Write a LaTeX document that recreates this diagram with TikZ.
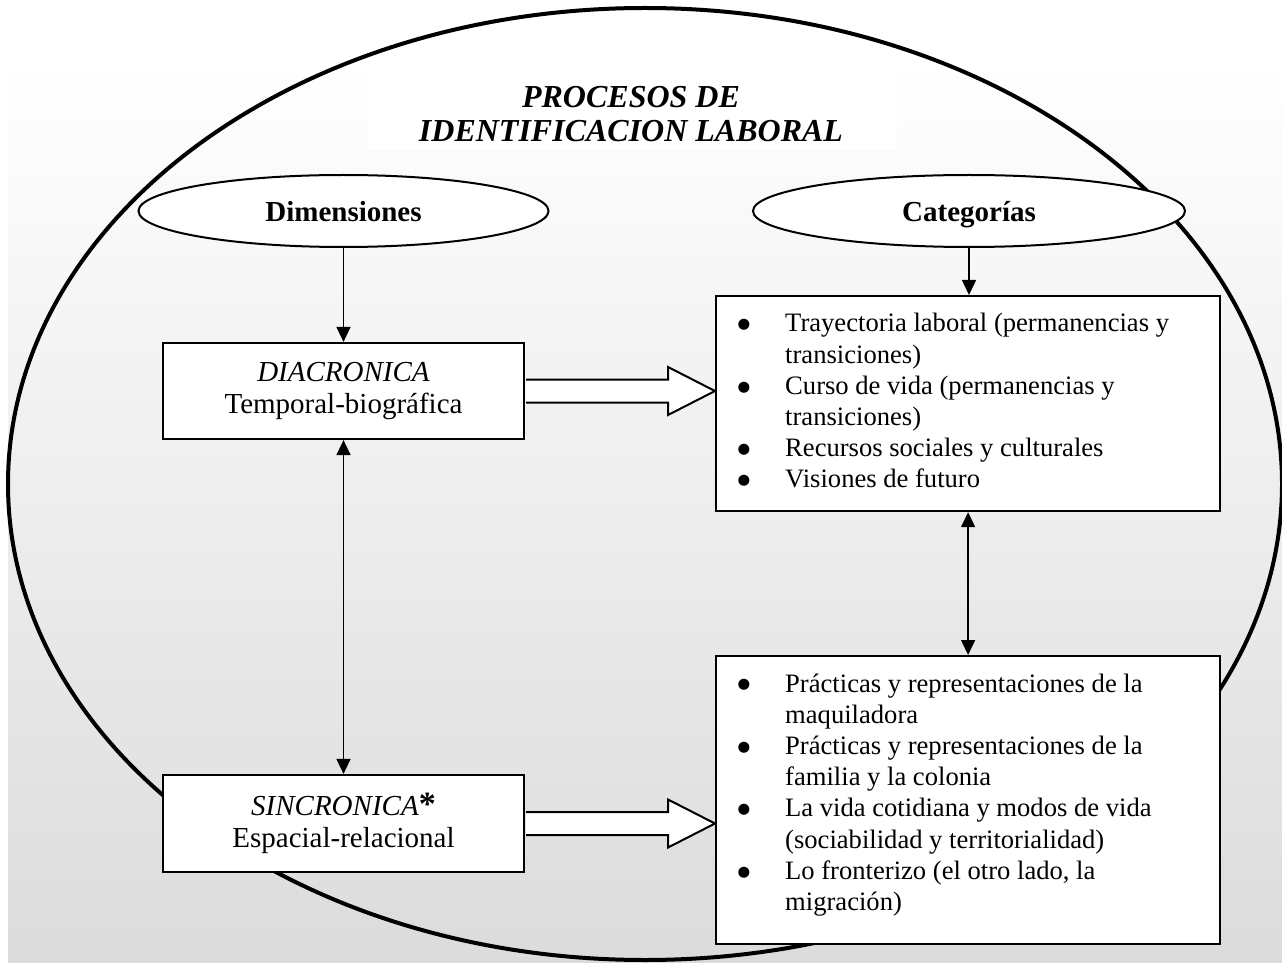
\documentclass[tikz,border=0pt]{standalone}
\usepackage{fontspec}
\setmainfont{Liberation Serif}
\newfontfamily\dotfont{DejaVu Sans}
\usetikzlibrary{shapes.geometric,arrows.meta,calc}
\newcommand{\bigbul}{\raisebox{3.2pt}{\dotfont\fontsize{14.5}{14.5}\selectfont ●}}
\begin{document}
\begin{tikzpicture}[x=1pt,y=-1pt,
  box/.style={draw, line width=2.2pt, fill=white, inner sep=0pt},
  oval/.style={ellipse, draw, line width=2pt, fill=white, inner sep=0pt,
    text height=24pt, text depth=2pt,
    font=\bfseries\fontsize{29}{32}\selectfont},
  arr/.style={line width=1.5pt, -{Triangle[length=15pt,width=14pt]}},
  darr/.style={line width=1.5pt, {Triangle[length=15pt,width=14pt]}-{Triangle[length=15pt,width=14pt]}},
  fat/.style={draw, line width=2pt, fill=white, line join=miter},
  lbl/.style={font=\fontsize{29}{32}\selectfont, align=center},
  lst/.style={font=\fontsize{26.6}{31.2}\selectfont, inner sep=0pt, anchor=base west}]
\useasboundingbox (0,0) rectangle (1282,965);
% background
\shade[top color=white, bottom color=gray!28] (8,62) rectangle (1282,962);
\fill[white] (368,60) rectangle (897,150);
% big ellipse
\draw[line width=4pt] (645,484) ellipse [x radius=637pt, y radius=476pt];
% title
\node[anchor=base, inner sep=0pt, font=\bfseries\itshape\fontsize{32}{34}\selectfont] (title) at (631,108)
  {\begin{tabular}[t]{@{}c@{}}PROCESOS DE\\IDENTIFICACION LABORAL\end{tabular}};
% ellipses
\node[oval, minimum width=410pt, minimum height=72pt] (dim) at (343.5,211) {Dimensiones};
\node[oval, minimum width=432pt, minimum height=72pt] (cat) at (969,211) {Categorías};
% left boxes
\node[box, lbl, minimum width=361pt, minimum height=96pt] (dia) at (343.5,391)
  {\textit{DIACRONICA}\\Temporal-biográfica};
\node[box, lbl, minimum width=361pt, minimum height=97pt] (sin) at (343.5,823.5)
  {\textit{SINCRONICA}{\bfseries\fontsize{34}{34}\selectfont *}\\Espacial-relacional};
% right boxes
\node[box, minimum width=504pt, minimum height=215pt, anchor=north west] (cat1) at (715,295) {};
\node[box, minimum width=504pt, minimum height=288pt, anchor=north west] (cat2) at (715,655) {};
\node[lst] (l1) at (737.5,332) {\begin{tabular}[t]{@{}p{47.5pt}@{}l@{}}
  \bigbul & Trayectoria laboral (permanencias y\\
   & transiciones)\\
  \bigbul & Curso de vida (permanencias y\\
   & transiciones)\\
  \bigbul & Recursos sociales y culturales\\
  \bigbul & Visiones de futuro
  \end{tabular}};
\node[lst] (l2) at (737.5,692) {\begin{tabular}[t]{@{}p{47.5pt}@{}l@{}}
  \bigbul & Prácticas y representaciones de la\\
   & maquiladora\\
  \bigbul & Prácticas y representaciones de la\\
   & familia y la colonia\\
  \bigbul & La vida cotidiana y modos de vida\\
   & (sociabilidad y territorialidad)\\
  \bigbul & Lo fronterizo (el otro lado, la\\
   & migración)
  \end{tabular}};
% thin arrows
\draw[arr] (dim.south) -- (dia.north);
\draw[arr] (cat.south) -- (cat.south |- cat1.north);
\draw[darr] (dia.south) -- (sin.north);
\draw[darr] (cat1.south) -- (cat2.north);
% fat arrows
\path (dia.east) coordinate (fa1) (cat1.west |- dia.east) coordinate (fa2);
\draw[fat] ($(fa1)+(1.1,-11.5)$) -- ($(fa2)+(-47,-11.5)$) -- ($(fa2)+(-47,-24)$) -- (fa2)
  -- ($(fa2)+(-47,24)$) -- ($(fa2)+(-47,11.5)$) -- ($(fa1)+(1.1,11.5)$);
\path (sin.east) coordinate (fb1) (cat2.west |- sin.east) coordinate (fb2);
\draw[fat] ($(fb1)+(1.1,-11.5)$) -- ($(fb2)+(-47,-11.5)$) -- ($(fb2)+(-47,-24)$) -- (fb2)
  -- ($(fb2)+(-47,24)$) -- ($(fb2)+(-47,11.5)$) -- ($(fb1)+(1.1,11.5)$);
\end{tikzpicture}
\end{document}
